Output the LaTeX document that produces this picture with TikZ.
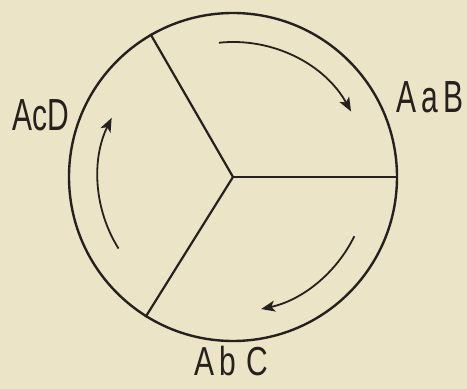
\documentclass[tikz,border=0pt]{standalone}
\usepackage{fontspec}
\setmainfont{Liberation Sans}
\usetikzlibrary{arrows.meta,calc}
\definecolor{paper}{RGB}{236,228,198}
\definecolor{ink}{RGB}{38,32,30}
\begin{document}
\begin{tikzpicture}[x=1pt,y=1pt,
  ring/.style={circle,draw=ink,line width=2.4pt,minimum size=328pt,inner sep=0pt},
  spoke/.style={draw=ink,line width=2.2pt},
  flow/.style={draw=ink,line width=1.8pt,-{Stealth[length=14pt,width=11pt,inset=3.5pt]}},
  lbl/.style={text=ink,inner sep=0pt,font=\fontsize{30}{36}\selectfont}]
\fill[paper] (0,0) rectangle (467,389);
\useasboundingbox (0,0) rectangle (467,389);
\node[ring] (c) at (233,212) {};
\draw[spoke] (c.center) -- (c.0);
\draw[spoke] (c.center) -- (c.120);
\draw[spoke] (c.center) -- (c.-122);
\coordinate (s1) at ($(c.center)+(96:135)$);
\coordinate (s2) at ($(c.center)+(-26:135)$);
\coordinate (s3) at ($(c.center)+(212:135)$);
\draw[flow] (s1) arc[start angle=96,end angle=29,radius=135];
\draw[flow] (s2) arc[start angle=-26,end angle=-78,radius=135];
\draw[flow] (s3) arc[start angle=212,end angle=154,radius=135];
\node[lbl] (acd) at (41,274) {\scalebox{1}[1.5]{AcD}};
\node[lbl] (aab) at (430,292) {\scalebox{1}[1.5]{A\,a\,B}};
\node[lbl] (abc) at (231,28) {\scalebox{1}[1.35]{A\,b\,\,C}};
\end{tikzpicture}
\end{document}
